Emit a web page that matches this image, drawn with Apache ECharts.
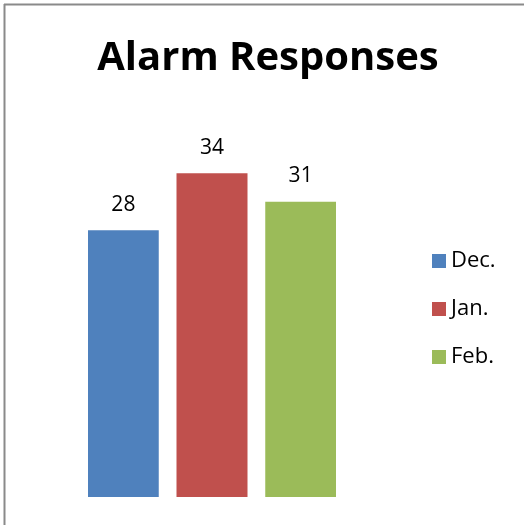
<!DOCTYPE html>
<html>
<head>
<meta charset="utf-8">
<script src="https://cdn.jsdelivr.net/npm/echarts@6/dist/echarts.min.js"></script>
<style>
  html, body { margin: 0; padding: 0; background: #fff; }
  #chart { width: 524px; height: 525px; }
</style>
</head>
<body>
<div id="chart"></div>
<script>
// 数据
const months = ['Dec.', 'Jan.', 'Feb.']
const responses = [28, 34, 31]
const colors = ['#4F81BD', '#C0504D', '#9BBB59']

const chart = echarts.init(document.getElementById('chart'))

const series = months.map((name, i) => ({
  name: name,
  type: 'bar',
  data: [responses[i]],
  barWidth: 71,
  barGap: '25%',
  itemStyle: { color: colors[i] },
  label: {
    show: true,
    position: 'top',
    distance: 15,
    color: '#000',
    fontSize: 21,
    fontFamily: 'Open Sans'
  }
}))

const option = {
  animation: false,
  title: {
    text: 'Alarm Responses',
    left: 263,
    textAlign: 'center',
    top: 34,
    textStyle: {
      fontSize: 40,
      fontWeight: 'bold',
      fontFamily: 'Open Sans',
      color: '#000'
    }
  },
  legend: {
    orient: 'vertical',
    left: 427,
    top: 245,
    itemWidth: 14,
    itemHeight: 14,
    itemGap: 26,
    icon: 'rect',
    textStyle: { fontSize: 22, fontFamily: 'Open Sans', color: '#000' },
    data: months
  },
  grid: {
    left: 88,
    right: 188,
    top: 116,
    bottom: 28
  },
  xAxis: {
    type: 'category',
    data: [''],
    axisLine: { show: false },
    axisTick: { show: false },
    axisLabel: { show: false }
  },
  yAxis: {
    type: 'value',
    min: 0,
    max: 40,
    show: false
  },
  series: series,
  graphic: [
    { type: 'line', shape: { x1: 4, y1: 4.5, x2: 524, y2: 4.5 }, style: { stroke: '#8a8a8a', lineWidth: 2 } },
    { type: 'line', shape: { x1: 4.5, y1: 4, x2: 4.5, y2: 525 }, style: { stroke: '#8a8a8a', lineWidth: 2 } }
  ]
}

chart.setOption(option)
</script>
</body>
</html>
